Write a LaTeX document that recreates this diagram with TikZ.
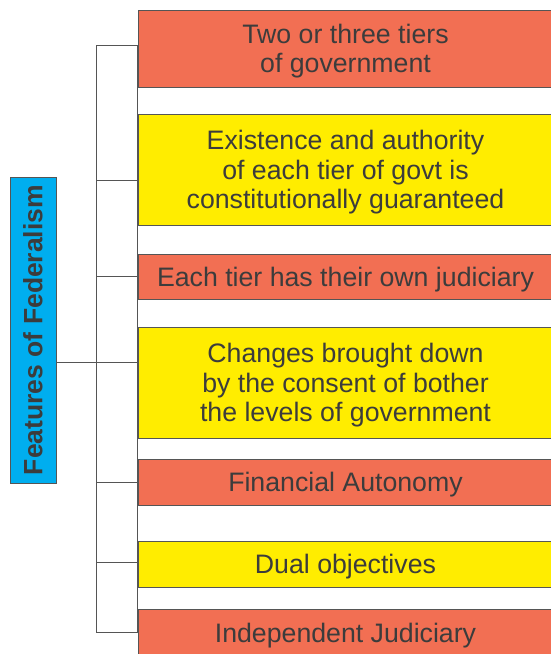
\documentclass[tikz,border=0pt]{standalone}
\usepackage{fontspec}
\setmainfont{Liberation Sans}
\usepackage{xcolor}

\definecolor{salmon}{HTML}{F26F53}
\definecolor{lemon}{HTML}{FFED00}
\definecolor{sky}{HTML}{00AEEF}
\definecolor{ink}{HTML}{3C3C3C}
\definecolor{rule}{HTML}{555555}

\tikzset{
  feat/.style={draw=rule,line width=0.9pt,text=ink,align=center,inner sep=0pt,
    text depth=0pt,minimum width=415pt,font=\fontsize{26.7}{29.5}\selectfont},
  wire/.style={draw=rule,line width=0.9pt}
}

\begin{document}
\begin{tikzpicture}[x=1pt,y=-1pt]
\useasboundingbox (0,0) rectangle (551,654);
\clip (0,0) rectangle (551,654);

\node[draw=rule,line width=0.9pt,fill=sky,text=ink,rotate=90,inner sep=0pt,
  minimum width=306pt,minimum height=46pt,font=\fontsize{26.5}{30}\selectfont\bfseries]
  (fed) at (33,330) {Features of Federalism};

\node[feat,fill=salmon,minimum height=77pt] (tiers) at (345.5,48.5) {Two or three tiers\\of government};
\node[feat,fill=lemon,minimum height=111pt] (exist) at (345.5,169.5) {Existence and authority\\of each tier of govt is\\constitutionally guaranteed};
\node[feat,fill=salmon,minimum height=45pt] (judic) at (345.5,276.5) {Each tier has their own judiciary};
\node[feat,fill=lemon,minimum height=111pt] (changes) at (345.5,382.5) {Changes brought down\\by the consent of bother\\the levels of government};
\node[feat,fill=salmon,minimum height=46pt] (finance) at (345.5,482) {Financial Autonomy};
\node[feat,fill=lemon,minimum height=46pt] (dual) at (345.5,564) {Dual objectives};
\node[feat,fill=salmon,minimum height=47pt] (indep) at (345.5,632.5) {Independent Judiciary};

% spine taps
\coordinate (t1) at (96,45);
\coordinate (t2) at (96,180);
\coordinate (t3) at (96,276);
\coordinate (t4) at (96,362);
\coordinate (t5) at (96,482);
\coordinate (t6) at (96,562);
\coordinate (t7) at (96,632);

\draw[wire] (t1) -- (t7);
\draw[wire] (t1 -| tiers.west) -- (t7 -| indep.west);
\draw[wire] (fed.south |- t4) -- (t4 -| changes.west);
\draw[wire] (t1) -- (t1 -| tiers.west);
\draw[wire] (t2) -- (t2 -| exist.west);
\draw[wire] (t3) -- (t3 -| judic.west);
\draw[wire] (t5) -- (t5 -| finance.west);
\draw[wire] (t6) -- (t6 -| dual.west);
\draw[wire] (t7) -- (t7 -| indep.west);
\end{tikzpicture}
\end{document}
